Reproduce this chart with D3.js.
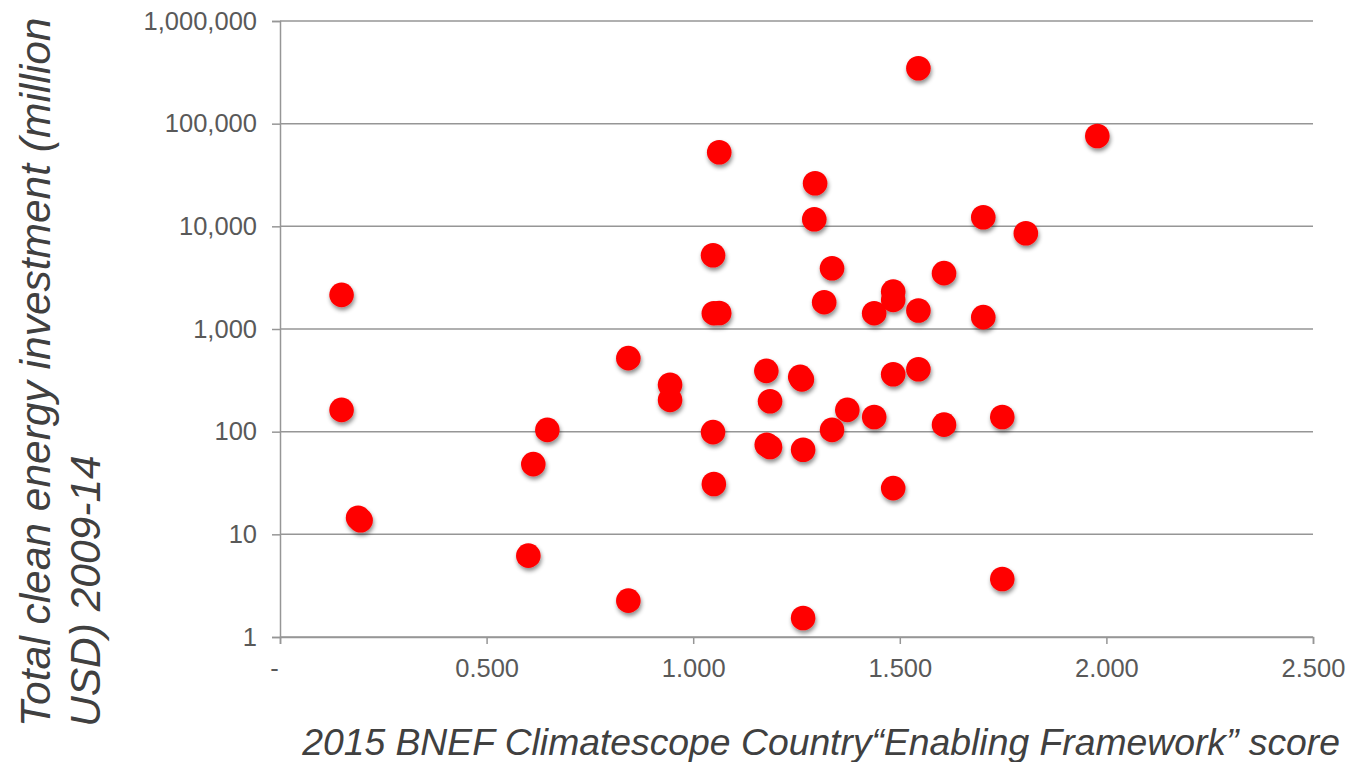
<!DOCTYPE html>
<html>
<head>
<meta charset="utf-8">
<script src="https://cdn.jsdelivr.net/npm/d3@7"></script>
<style>
  body { margin: 0; background: #fff; }
  svg { display: block; font-family: "Liberation Sans", Arial, sans-serif; }
</style>
</head>
<body>
<script>
const width = 1349,
  height = 762,
  marginTop = 21,
  marginRight = 36,
  marginBottom = 125,
  marginLeft = 280;

// Climatescope "Enabling Framework" score
const scores = [
  0.149, 0.149, 0.189, 0.195, 0.601, 0.613, 0.647, 0.843, 0.843, 0.944,
  0.944, 1.048, 1.050, 1.063, 1.048, 1.050, 1.063, 1.177, 1.186, 1.178,
  1.186, 1.259, 1.263, 1.266, 1.266, 1.295, 1.293, 1.317, 1.336, 1.336,
  1.373, 1.438, 1.438, 1.484, 1.484, 1.484, 1.484, 1.545, 1.545, 1.545,
  1.607, 1.607, 1.702, 1.702, 1.748, 1.748, 1.805, 1.978
];
// Total clean energy investment, million USD 2009-14
const investment = [
  2150, 163, 14.5, 13.7, 6.2, 48.3, 104, 520, 2.26, 286,
  204, 5230, 1426, 1430, 99, 30.9, 52700, 391, 198, 74.5,
  70.8, 342, 323, 66.6, 1.53, 26300, 11730, 1825, 3910, 104,
  163, 1426, 139, 2314, 1922, 363, 28.2, 346000, 1513, 406,
  3498, 117, 12270, 1304, 139, 3.67, 8570, 75900
];

const xTicks = [0, 0.5, 1, 1.5, 2, 2.5];
const yTicks = [1, 10, 100, 1000, 10000, 100000, 1000000];

const data = scores.map((s, i) => ({ x: s, y: investment[i] }));

const x = d3.scaleLinear().domain([0, 2.5]).range([marginLeft, width - marginRight]);
const y = d3.scaleLog().domain([1, 1000000]).range([height - marginBottom, marginTop]);

const svg = d3.select("body").append("svg")
  .attr("width", width)
  .attr("height", height);

const defs = svg.append("defs");
defs.append("filter")
  .attr("id", "shadow")
  .attr("x", "-50%").attr("y", "-50%")
  .attr("width", "200%").attr("height", "200%")
  .append("feDropShadow")
  .attr("dx", 1).attr("dy", 3)
  .attr("stdDeviation", 2)
  .attr("flood-color", "#000")
  .attr("flood-opacity", 0.45);

// horizontal gridlines
svg.append("g")
  .selectAll("line")
  .data(yTicks)
  .join("line")
  .attr("x1", marginLeft)
  .attr("x2", width - marginRight)
  .attr("y1", d => y(d))
  .attr("y2", d => y(d))
  .attr("stroke", "#969696")
  .attr("stroke-width", 1.5);

// y axis
const yAxis = svg.append("g")
  .attr("transform", `translate(${marginLeft},0)`)
  .call(d3.axisLeft(y).tickValues(yTicks).tickFormat(d3.format(",")).tickSize(8).tickPadding(15));

// x axis
const xAxis = svg.append("g")
  .attr("transform", `translate(0,${height - marginBottom})`)
  .call(d3.axisBottom(x).tickValues(xTicks)
    .tickFormat(d => d === 0 ? "-" : d3.format(".3f")(d))
    .tickSize(7).tickPadding(15));

[yAxis, xAxis].forEach(g => {
  g.select(".domain").attr("stroke", "#969696").attr("stroke-width", 1.5);
  g.selectAll(".tick line").attr("stroke", "#969696").attr("stroke-width", 1.5);
  g.selectAll(".tick text")
    .attr("fill", "#595959")
    .attr("font-size", 25.5)
    .attr("font-family", "'Liberation Sans', Arial, sans-serif");
});
xAxis.selectAll(".tick text").filter(d => d === 0).attr("dx", -6);

// points
svg.append("g")
  .attr("filter", "url(#shadow)")
  .selectAll("circle")
  .data(data)
  .join("circle")
  .attr("cx", d => x(d.x))
  .attr("cy", d => y(d.y))
  .attr("r", 12.3)
  .attr("fill", "#ff0000");

// axis titles
svg.append("text")
  .attr("x", 1340)
  .attr("y", 755)
  .attr("text-anchor", "end")
  .attr("font-style", "italic")
  .attr("font-size", 37.3)
  .attr("fill", "#404040")
  .text("2015 BNEF Climatescope Country\u201cEnabling Framework\u201d score");

const yTitle = svg.append("text")
  .attr("transform", "translate(50,727) rotate(-90)")
  .attr("font-style", "italic")
  .attr("font-size", 42.5)
  .attr("fill", "#404040");
yTitle.append("tspan").attr("x", 0).attr("y", 0)
  .text("Total clean energy investment (million");
yTitle.append("tspan").attr("x", 0).attr("y", 50)
  .text("USD) 2009-14");
</script>
</body>
</html>
